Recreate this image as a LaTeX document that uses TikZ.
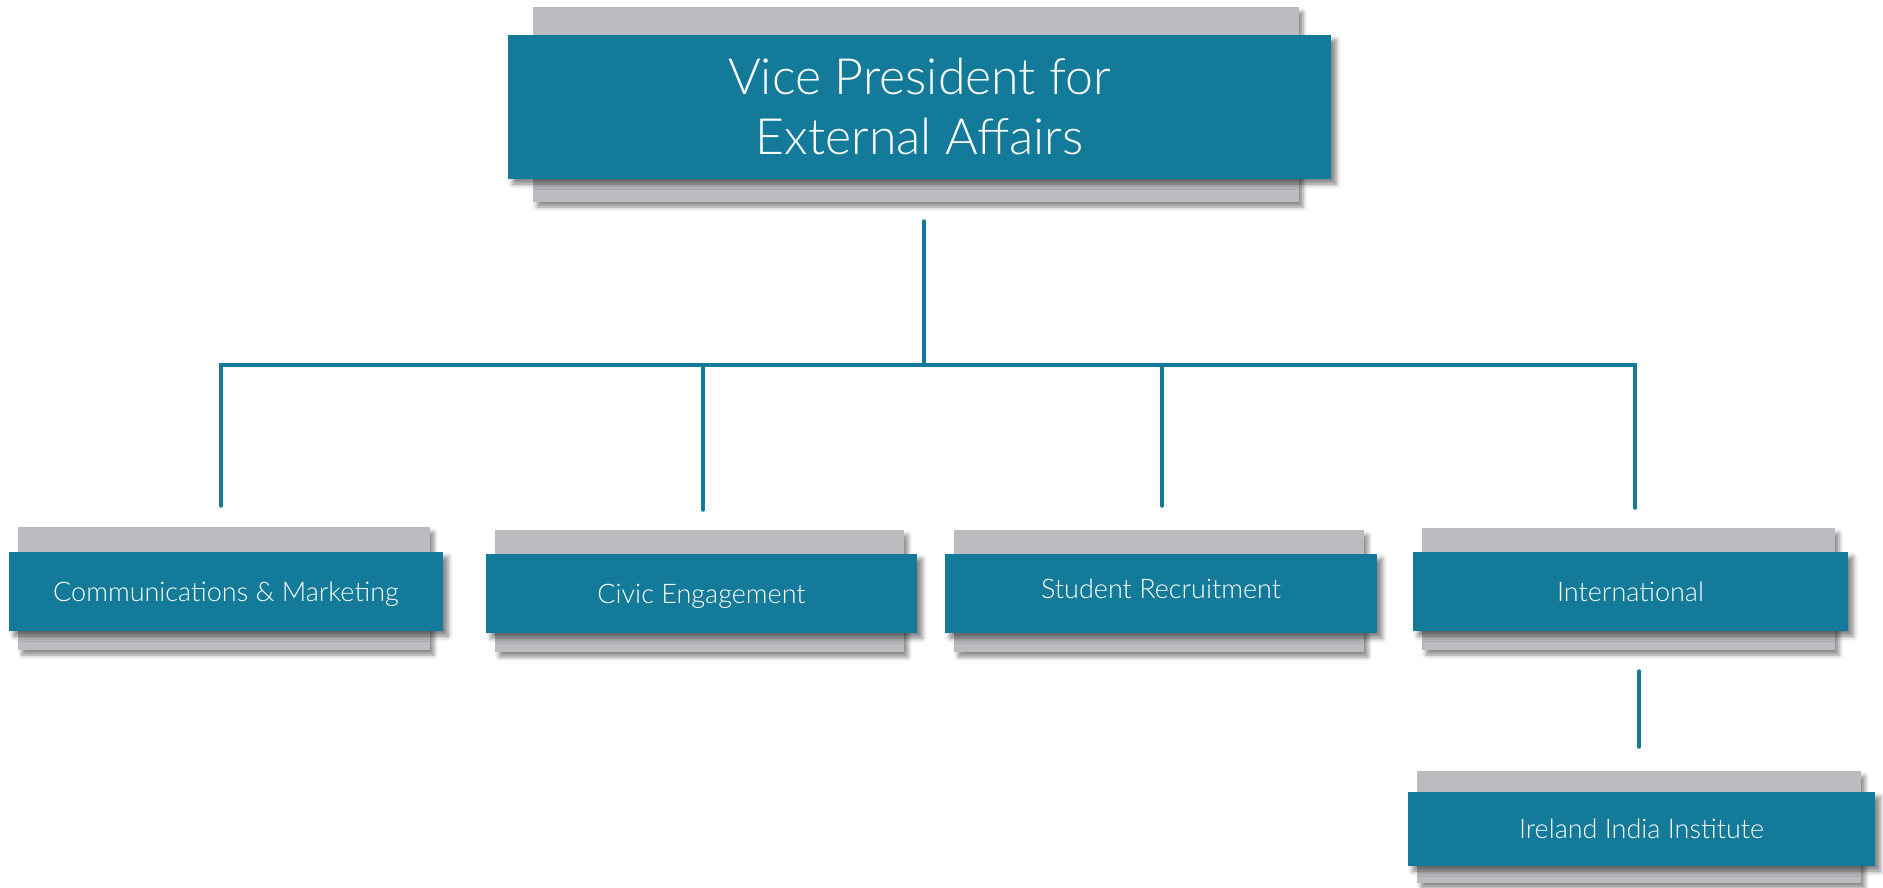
\documentclass[tikz,border=0pt]{standalone}
\usepackage{fontspec}
\setmainfont{Lato}[UprightFont=* Light]
\usetikzlibrary{shadows.blur,calc}
\definecolor{tealbox}{RGB}{20,122,153}
\definecolor{greyback}{RGB}{187,188,192}
\tikzset{
  backbox/.style={fill=greyback, draw=none, inner sep=0pt,
    blur shadow={shadow xshift=4pt, shadow yshift=-5pt, shadow blur radius=4pt, shadow opacity=45}},
  frontbox/.style={fill=tealbox, draw=none, inner sep=0pt, text=white, align=center,
    blur shadow={shadow xshift=5pt, shadow yshift=-5pt, shadow blur radius=5pt, shadow opacity=50}},
  smalltext/.style={font=\fontsize{27}{32}\selectfont, text height=19pt, text depth=0pt},
  bigtext/.style={font=\fontsize{50}{60}\selectfont},
  conn/.style={draw=tealbox, line width=3.5pt, line cap=round},
}
\begin{document}
\begin{tikzpicture}[x=1pt,y=-1pt]
\useasboundingbox (0,0) rectangle (1883,887);
% top
\node[backbox, minimum width=766pt, minimum height=195pt] (vpback) at (916,104.5) {};
\node[frontbox, bigtext, minimum width=823pt, minimum height=144pt] (vp) at (919.5,107) {Vice President for\\External Affairs};
% children
\node[backbox, minimum width=412pt, minimum height=123pt] (commback) at (224,588.5) {};
\node[frontbox, smalltext, minimum width=434pt, minimum height=79pt] (comm) at (226,591.5) {Communications \& Marketing};
\node[backbox, minimum width=409pt, minimum height=122pt] (civicback) at (699.5,591) {};
\node[frontbox, smalltext, minimum width=431pt, minimum height=79pt] (civic) at (701.5,593.5) {Civic Engagement};
\node[backbox, minimum width=410pt, minimum height=122pt] (studback) at (1159,591) {};
\node[frontbox, smalltext, text depth=9pt, minimum width=432pt, minimum height=79pt] (stud) at (1161,593.5) {Student Recruitment};
\node[backbox, minimum width=413pt, minimum height=122pt] (intlback) at (1628.5,589) {};
\node[frontbox, smalltext, minimum width=435pt, minimum height=79pt] (intl) at (1630.5,591.5) {International};
\node[backbox, minimum width=444pt, minimum height=112pt] (irlback) at (1639,827) {};
\node[frontbox, smalltext, minimum width=467pt, minimum height=74pt] (irl) at (1641.5,829) {Ireland India Institute};
% connector coordinates
\coordinate (vptail) at (924,221);
\coordinate (bus) at (0,365);
\coordinate (commtop) at (221,506);
\coordinate (civictop) at (703,510);
\coordinate (studtop) at (1162,506);
\coordinate (intltop) at (1635,508);
\coordinate (intltail) at (1639,671);
\coordinate (irltop) at (1639,747);
% connectors
\draw[conn] (vptail) -- (vptail |- bus);
\draw[conn] (commtop) -- (commtop |- bus) -- (intltop |- bus) -- (intltop);
\draw[conn] (civictop) -- (civictop |- bus);
\draw[conn] (studtop) -- (studtop |- bus);
\draw[conn] (intltail) -- (irltop);
\end{tikzpicture}
\end{document}
